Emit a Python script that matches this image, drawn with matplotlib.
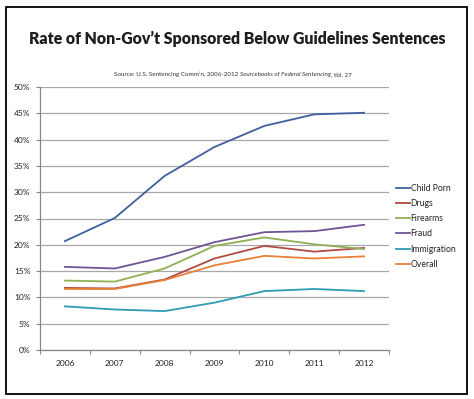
import matplotlib.pyplot as plt
from matplotlib.patches import Rectangle
from matplotlib.ticker import FixedLocator, NullFormatter

plt.rcParams['font.family'] = ['Lato', 'DejaVu Sans']

# data (percent)
years = ['2006', '2007', '2008', '2009', '2010', '2011', '2012']
child_porn = [20.7, 25.1, 33.1, 38.6, 42.6, 44.8, 45.1]
drugs = [11.8, 11.7, 13.4, 17.4, 19.8, 18.7, 19.4]
firearms = [13.2, 13.0, 15.5, 19.8, 21.4, 20.1, 19.2]
fraud = [15.8, 15.5, 17.7, 20.5, 22.4, 22.6, 23.8]
immigration = [8.3, 7.7, 7.4, 9.0, 11.2, 11.6, 11.2]
overall = [11.6, 11.6, 13.3, 16.1, 17.9, 17.4, 17.8]

series = [
    ('Child Porn', child_porn, '#3f5f9e'),
    ('Drugs', drugs, '#b24a44'),
    ('Firearms', firearms, '#8fb055'),
    ('Fraud', fraud, '#6e5596'),
    ('Immigration', immigration, '#2f9bb5'),
    ('Overall', overall, '#e8803a'),
]

fig = plt.figure(figsize=(4.74, 3.99), dpi=100)
fig.patch.set_facecolor('white')

# outer border
fig.patches.append(Rectangle((6 / 474, 5 / 399), 461 / 474, 387 / 399,
                             transform=fig.transFigure, fill=False,
                             edgecolor='black', linewidth=1.3))

fig.text(0.5, 1 - 39 / 399, 'Rate of Non-Gov\u2019t Sponsored Below Guidelines Sentences',
         ha='center', va='center', fontsize=11.4, fontweight='heavy', color='#1e1e1e')

ax = fig.add_axes([40 / 474, 1 - 350 / 399, 349 / 474, 263 / 399])

# source line, part in italics
src_fs = 4.5
t1 = fig.text(114 / 474, 1 - 74 / 399, 'Source: U.S. Sentencing Comm\u2019n, 2006-2012 ',
              ha='left', va='center', fontsize=src_fs, color='#333333')
an2 = ax.annotate('Sourcebooks of Federal Sentencing', xy=(1, 0), xycoords=t1,
                  va='bottom', ha='left', fontsize=src_fs, style='italic', color='#333333',
                  annotation_clip=False)
an3 = ax.annotate(', tbl. 27', xy=(1, 0), xycoords=an2,
                  va='bottom', ha='left', fontsize=src_fs, color='#333333',
                  annotation_clip=False)

x = range(len(years))
for name, vals, col in series:
    ax.plot(x, vals, color=col, linewidth=1.3, label=name)

ax.set_xlim(-0.5, len(years) - 0.5)
ax.set_ylim(0, 50)
ax.set_yticks(range(0, 51, 5))
ax.set_yticklabels([f'{v}%' for v in range(0, 51, 5)])
ax.set_xticks(list(x))
ax.set_xticklabels(years)
ax.xaxis.set_minor_locator(FixedLocator([i - 0.5 for i in range(len(years) + 1)]))
ax.xaxis.set_minor_formatter(NullFormatter())
ax.tick_params(axis='x', which='major', length=0, labelsize=6, pad=7, colors='#222222')
ax.tick_params(axis='x', which='minor', length=3, color='#888888', width=0.8)
ax.tick_params(axis='y', length=3, color='#888888', width=0.8, labelsize=6,
               pad=4, labelcolor='#222222')
ax.grid(axis='y', color='#a8a8a8', linewidth=0.9)
ax.set_axisbelow(True)
for s in ['top', 'right']:
    ax.spines[s].set_visible(False)
for s in ['left', 'bottom']:
    ax.spines[s].set_color('#888888')
    ax.spines[s].set_linewidth(0.9)

leg = ax.legend(loc='upper left', bbox_to_anchor=(1.01, 0.645), frameon=False,
                fontsize=6.2, handlelength=1.6, handletextpad=0.1,
                labelspacing=0.72, borderaxespad=0)
for t in leg.get_texts():
    t.set_color('#222222')

fig.savefig('out.png', dpi=100)
